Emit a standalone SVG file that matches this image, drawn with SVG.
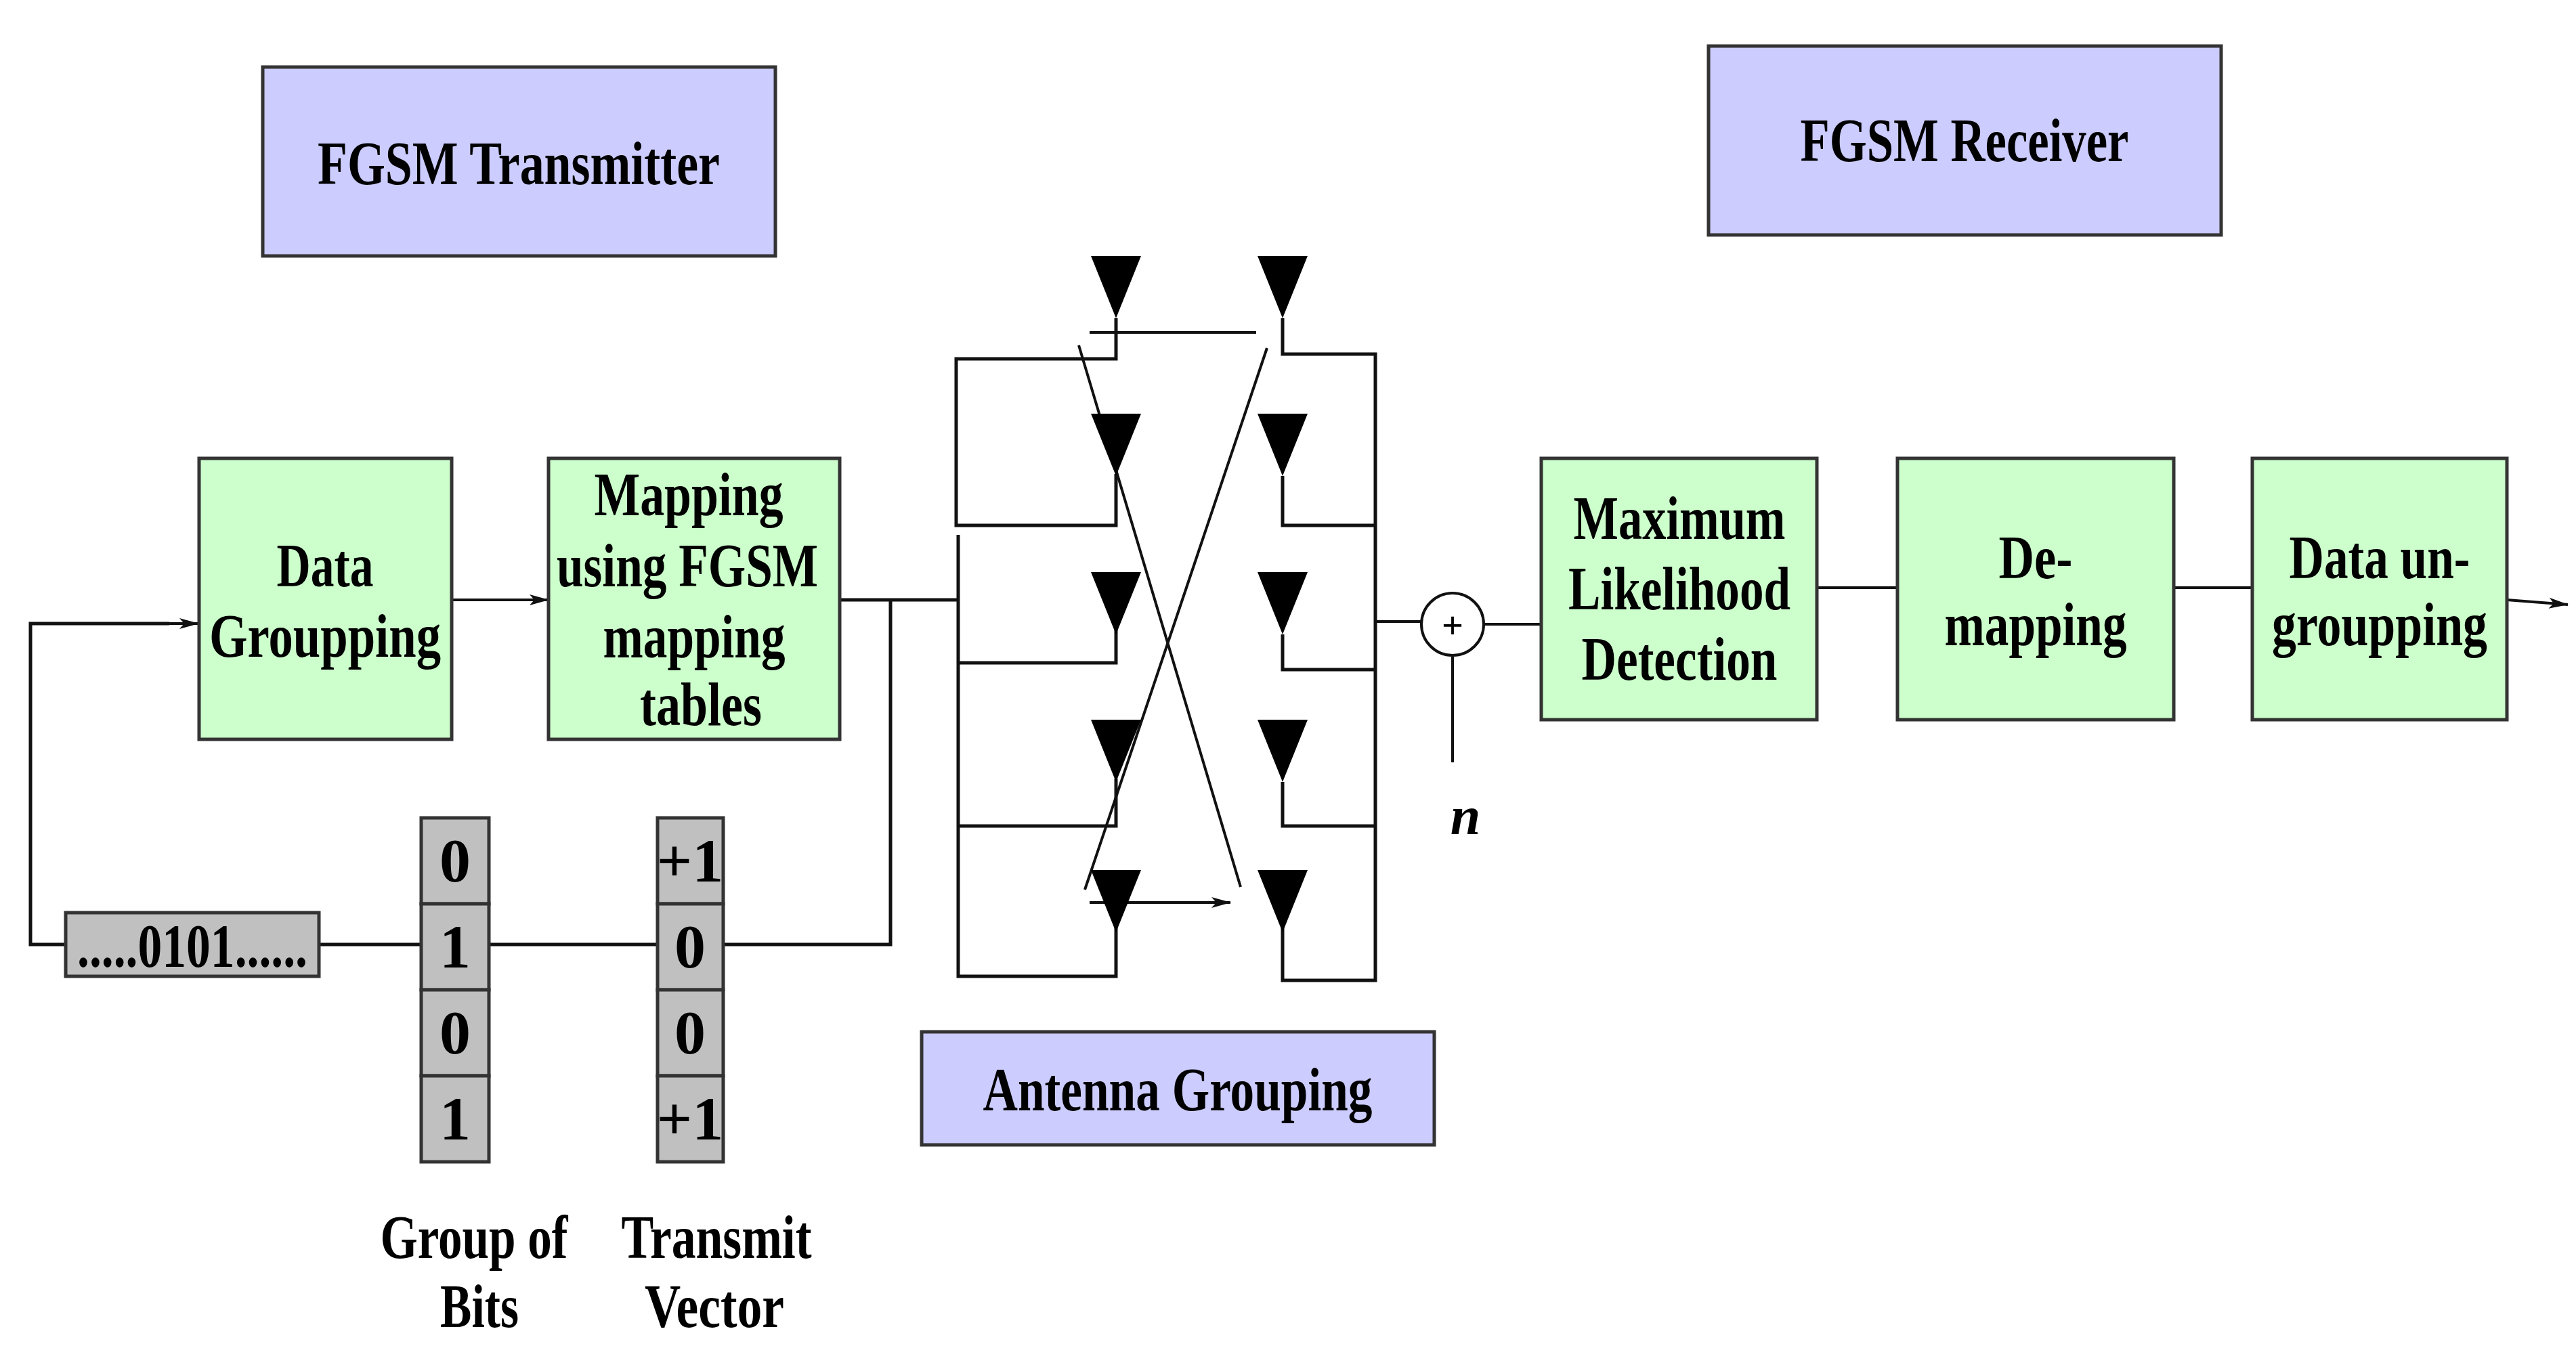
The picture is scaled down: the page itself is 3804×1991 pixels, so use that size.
<svg xmlns="http://www.w3.org/2000/svg" width="3804" height="1991" viewBox="0 0 3804 1991">
<style>
text{font-family:"Liberation Serif","Times New Roman",serif;font-weight:bold;fill:#000;text-anchor:middle}
.t{font-size:92px}
.g{fill:#ccffcc;stroke:#333;stroke-width:5}
.p{fill:#ccccff;stroke:#333;stroke-width:5}
.b{fill:#c0c0c0;stroke:#333;stroke-width:5}
.l{fill:none;stroke:#111;stroke-width:5}
.a{fill:none;stroke:#111;stroke-width:4;marker-end:url(#ar)}
.ant{fill:#000}
</style>
<defs>
<marker id="ar" viewBox="0 0 20 16" refX="19" refY="8" markerWidth="20" markerHeight="16" markerUnits="userSpaceOnUse" orient="auto" overflow="visible">
<path d="M-18,-8 L40,8 L-18,24 L-4,8 Z" transform="scale(0.5) translate(0,8)" fill="#111"/>
</marker>
</defs>
<rect width="3804" height="1991" fill="#fff"/>

<g id="connectors">
<path class="l" d="M97,1395 H45 V921 H250"/>
<path class="a" d="M250,921 H293"/>
<path class="a" d="M668,886 H810"/>
<path class="l" d="M471,1395 H622 M722,1395 H971 M1068,1395 H1315 V886 M1240,886 H1415"/>
<path class="a" d="M2031,918 H2099 M2191,922 H2276 M2145,1126 V970 M2683,868 H2802 M3210,868 H3326 M3702,886 L3792,893"/>
<path class="a" d="M1609,491 H1855 M1593,510 L1832,1310 M1602,1314 L1871,514 M1609,1333 H1817"/>
</g>

<g id="tx-antennas">
<path class="l" d="M1648,470 V530 H1412 V776 H1648 V700 M1415,790 V1442 H1648 V1370 M1415,979 H1648 V930 M1415,1220 H1648 V1150"/>
<path class="ant" d="M1611,378 H1685 L1648,470 Z M1611,611 H1685 L1648,703 Z M1611,845 H1685 L1648,937 Z M1611,1063 H1685 L1648,1155 Z M1611,1285 H1685 L1648,1377 Z"/>
</g>
<g id="rx-antennas">
<path class="l" d="M1894,470 V523 H2031 V1448 H1894 V1370 M1894,703 V776 H2031 M1894,937 V989 H2031 M1894,1155 V1220 H2031"/>
<path class="ant" d="M1857,378 H1931 L1894,470 Z M1857,611 H1931 L1894,703 Z M1857,845 H1931 L1894,937 Z M1857,1063 H1931 L1894,1155 Z M1857,1285 H1931 L1894,1377 Z"/>
</g>

<g id="adder">
<circle cx="2145" cy="922" r="46" fill="#fff" stroke="#111" stroke-width="4"/>
<text x="2145" y="942" style="font-family:'Liberation Sans',Arial,sans-serif;font-weight:normal;font-size:54px">+</text>
</g>
<g id="noise"><text x="2164" y="1232" style="font-style:italic;font-size:80px">n</text></g>

<g id="tx-title"><rect class="p" x="388" y="99" width="757" height="279"/><text class="t" x="766" y="272" textLength="594" lengthAdjust="spacingAndGlyphs">FGSM Transmitter</text></g>
<g id="rx-title"><rect class="p" x="2523" y="68" width="757" height="279"/><text class="t" x="2901" y="238" textLength="485" lengthAdjust="spacingAndGlyphs">FGSM Receiver</text></g>
<g id="ant-title"><rect class="p" x="1361" y="1524" width="757" height="167"/><text class="t" x="1739" y="1640" textLength="575" lengthAdjust="spacingAndGlyphs">Antenna Grouping</text></g>

<g id="data-grouping"><rect class="g" x="294" y="677" width="373" height="415"/>
<text class="t" x="480" y="866" textLength="143" lengthAdjust="spacingAndGlyphs">Data</text>
<text class="t" x="480" y="970" textLength="342" lengthAdjust="spacingAndGlyphs">Groupping</text></g>
<g id="mapping"><rect class="g" x="810" y="677" width="430" height="415"/>
<text class="t" x="1017" y="761" textLength="279" lengthAdjust="spacingAndGlyphs">Mapping</text>
<text class="t" x="1015" y="866" textLength="386" lengthAdjust="spacingAndGlyphs">using FGSM</text>
<text class="t" x="1025" y="971" textLength="269" lengthAdjust="spacingAndGlyphs">mapping</text>
<text class="t" x="1035" y="1071" textLength="180" lengthAdjust="spacingAndGlyphs">tables</text></g>
<g id="ml-detection"><rect class="g" x="2276" y="677" width="407" height="386"/>
<text class="t" x="2480" y="796" textLength="313" lengthAdjust="spacingAndGlyphs">Maximum</text>
<text class="t" x="2480" y="900" textLength="328" lengthAdjust="spacingAndGlyphs">Likelihood</text>
<text class="t" x="2480" y="1004" textLength="289" lengthAdjust="spacingAndGlyphs">Detection</text></g>
<g id="de-mapping"><rect class="g" x="2802" y="677" width="408" height="386"/>
<text class="t" x="3006" y="854" textLength="109" lengthAdjust="spacingAndGlyphs">De-</text>
<text class="t" x="3006" y="953" textLength="269" lengthAdjust="spacingAndGlyphs">mapping</text></g>
<g id="data-ungrouping"><rect class="g" x="3326" y="677" width="376" height="386"/>
<text class="t" x="3514" y="854" textLength="267" lengthAdjust="spacingAndGlyphs">Data un-</text>
<text class="t" x="3514" y="953" textLength="318" lengthAdjust="spacingAndGlyphs">groupping</text></g>

<g id="bitstream"><rect class="b" x="97" y="1348" width="374" height="94"/>
<text class="t" x="284" y="1428" textLength="340" lengthAdjust="spacingAndGlyphs">.....0101......</text></g>
<g id="group-of-bits">
<rect class="b" x="622" y="1208" width="100" height="127"/><rect class="b" x="622" y="1335" width="100" height="127"/><rect class="b" x="622" y="1462" width="100" height="127"/><rect class="b" x="622" y="1589" width="100" height="127"/>
<text class="t" x="672" y="1302">0</text><text class="t" x="672" y="1429">1</text><text class="t" x="672" y="1556">0</text><text class="t" x="672" y="1683">1</text>
<text class="t" x="700" y="1858" textLength="277" lengthAdjust="spacingAndGlyphs">Group of</text>
<text class="t" x="708" y="1960" textLength="116" lengthAdjust="spacingAndGlyphs">Bits</text></g>
<g id="transmit-vector">
<rect class="b" x="971" y="1208" width="97" height="127"/><rect class="b" x="971" y="1335" width="97" height="127"/><rect class="b" x="971" y="1462" width="97" height="127"/><rect class="b" x="971" y="1589" width="97" height="127"/>
<text class="t" x="1019" y="1302">+1</text><text class="t" x="1019" y="1429">0</text><text class="t" x="1019" y="1556">0</text><text class="t" x="1019" y="1683">+1</text>
<text class="t" x="1058" y="1858" textLength="281" lengthAdjust="spacingAndGlyphs">Transmit</text>
<text class="t" x="1055" y="1960" textLength="206" lengthAdjust="spacingAndGlyphs">Vector</text></g>
</svg>
